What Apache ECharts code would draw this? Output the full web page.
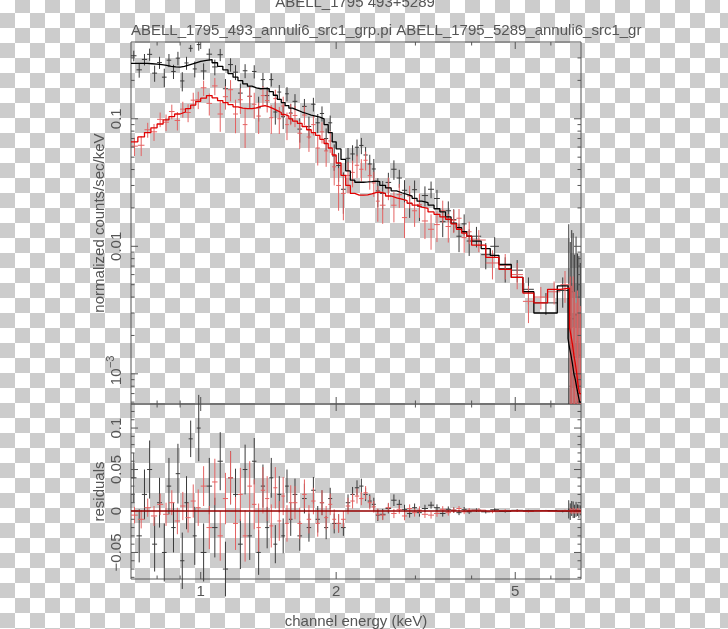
<!DOCTYPE html>
<html><head><meta charset="utf-8">
<script src="https://cdn.jsdelivr.net/npm/echarts@6/dist/echarts.min.js"></script>
<style>html,body{margin:0;padding:0;background:#fff}#c{width:728px;height:629px}</style>
</head><body><div id="c"></div>
<script>
// ---------- axis ranges & ticks ----------
const X_MIN = 0.7, X_MAX = 7;
const Y_MIN = 5.8e-4, Y_MAX = 0.4;
const R_MIN = -0.082, R_MAX = 0.129;
const xMajorTicks = [1, 2, 5];
const xTickLabels = ['1', '2', '5'];
const xMinorTicks = [0.8, 0.9, 3, 4, 6];
const yTopMajor = [0.001, 0.01, 0.1];
const yTopLabels = ['10^-3', '0.01', '0.1'];
const yTopMinor = [0.0006, 0.0007, 0.0008, 0.0009, 0.002, 0.003, 0.004, 0.005, 0.006, 0.007, 0.008, 0.009,
  0.02, 0.03, 0.04, 0.05, 0.06, 0.07, 0.08, 0.09, 0.2, 0.3];
const resMajor = [-0.05, 0, 0.05, 0.1];
const resLabels = ['\u22120.05', '0', '0.05', '0.1'];
const resMinor = [-0.08, -0.07, -0.06, -0.04, -0.03, -0.02, -0.01, 0.01, 0.02, 0.03, 0.04, 0.06, 0.07, 0.08, 0.09, 0.11, 0.12];

// ---------- ABELL_1795_493 (black) ----------
const bE = [0.71,0.73,0.75,0.77,0.79,0.81,0.83,0.85,0.87,0.89,0.91,0.93,0.95,0.97,0.99,
  1.015,1.045,1.075,1.105,1.135,1.165,1.195,1.225,1.255,1.285,1.315,1.345,1.375,1.405,1.435,1.465,1.495,1.525,1.555,1.585,
  1.62,1.66,1.70,1.74,1.78,1.82,1.86,1.90,1.94,1.98,
  2.025,2.075,2.125,2.175,2.225,2.275,2.325,2.375,2.425,2.475,
  2.5375,2.6125,2.6875,2.7625,2.8375,2.9125,2.9875,3.0625,
  3.15,3.25,3.35,3.45,3.55,3.65,3.75,3.85,3.95,
  4.1,4.3,4.5,4.75,5.05,5.35,5.85,6.375,
  6.575,6.625,6.675,6.725,6.775,6.825,6.875,6.925,6.975];
const bW = [0.01,0.01,0.01,0.01,0.01,0.01,0.01,0.01,0.01,0.01,0.01,0.01,0.01,0.01,0.01,
  0.015,0.015,0.015,0.015,0.015,0.015,0.015,0.015,0.015,0.015,0.015,0.015,0.015,0.015,0.015,0.015,0.015,0.015,0.015,0.015,
  0.02,0.02,0.02,0.02,0.02,0.02,0.02,0.02,0.02,0.02,
  0.025,0.025,0.025,0.025,0.025,0.025,0.025,0.025,0.025,0.025,
  0.0375,0.0375,0.0375,0.0375,0.0375,0.0375,0.0375,0.0375,
  0.05,0.05,0.05,0.05,0.05,0.05,0.05,0.05,0.05,
  0.1,0.1,0.1,0.15,0.15,0.15,0.35,0.175,
  0.025,0.025,0.025,0.025,0.025,0.025,0.025,0.025,0.025];
const bModel = [0.272,0.272,0.272,0.270,0.268,0.266,0.262,0.258,0.255,0.254,0.258,0.264,0.270,0.276,0.282,
  0.287,0.291,0.275,0.258,0.242,0.226,0.212,0.199,0.188,0.180,0.175,0.172,0.173,0.172,0.163,0.153,0.142,0.134,0.127,0.121,
  0.117,0.113,0.110,0.107,0.105,0.103,0.100,0.090,0.078,0.066,
  0.058,0.048,0.039,0.033,0.0318,0.0318,0.032,0.0322,0.0324,0.0322,
  0.0300,0.0287,0.0272,0.0263,0.0255,0.0247,0.0238,0.0226,
  0.0220,0.0210,0.0197,0.0186,0.0170,0.0152,0.0140,0.0130,0.0120,
  0.0110,0.0096,0.0085,0.0072,0.0057,0.0044,0.0030,0.0049,
  0.0019,0.0016,0.0014,0.0012,0.0010,0.0009,0.00078,0.00068,0.0006];
const bResid = [0.04,-0.03,0.02,0.05,-0.04,0.01,-0.05,0.03,-0.02,0.045,-0.06,0.01,0.087,-0.03,0.10,
  -0.05,0.03,-0.02,0.06,-0.07,0.04,0.02,-0.04,0.05,-0.03,0.06,-0.05,0.03,-0.02,0.04,-0.04,0.02,-0.03,0.03,-0.01,
  0.02,-0.03,0.015,-0.02,0.025,-0.01,0.01,-0.02,0.015,-0.015,
  -0.015,-0.02,0.01,0.02,0.028,0.03,0.02,0.012,0.008,-0.005,
  -0.004,0.003,0.013,0.008,0.002,-0.003,0.004,-0.002,
  0.003,0.007,0.004,-0.003,0.002,0.001,-0.002,0.002,-0.001,
  0.001,-0.001,0.0015,-0.0005,0.0008,0.0002,0.0006,-0.0004,
  0.002,-0.0008,0.003,0.0015,-0.0004,0.002,0.001,-0.0003,0.0008];
const bErr = [0.030,0.032,0.030,0.035,0.033,0.030,0.035,0.034,0.030,0.036,0.034,0.032,0.022,0.035,0.040,
  0.035,0.034,0.036,0.035,0.033,0.032,0.031,0.030,0.030,0.029,0.028,0.027,0.026,0.025,0.024,0.023,0.022,0.021,0.020,0.020,
  0.019,0.018,0.018,0.017,0.016,0.016,0.015,0.014,0.013,0.012,
  0.011,0.010,0.010,0.009,0.009,0.009,0.008,0.008,0.008,0.007,
  0.0065,0.006,0.007,0.0055,0.0055,0.005,0.005,0.0048,
  0.0045,0.0042,0.004,0.0038,0.0035,0.0033,0.003,0.0028,0.0026,
  0.0022,0.002,0.0018,0.0015,0.0013,0.0011,0.0007,0.0012,
  0.011,0.010,0.009,0.010,0.008,0.009,0.007,0.008,0.006];

// ---------- ABELL_1795_5289 (red) ----------
const rE = [0.7125,0.7375,0.7625,0.7875,0.8125,0.8375,0.8625,0.8875,0.9125,0.9375,0.9625,0.9875,
  1.015,1.045,1.075,1.105,1.135,1.165,1.195,1.225,1.255,1.285,1.315,1.345,1.375,1.405,1.435,1.465,1.495,1.525,1.555,1.585,
  1.62,1.66,1.70,1.74,1.78,1.82,1.86,1.90,1.94,1.98,
  2.025,2.075,2.125,2.175,2.225,2.275,2.325,2.375,2.425,2.475,
  2.5375,2.6125,2.6875,2.7625,2.8375,2.9125,2.9875,3.0625,
  3.15,3.25,3.35,3.45,3.55,3.65,3.75,3.85,3.95,
  4.15,4.45,4.75,5.05,5.35,5.7,6.1,6.45,
  6.625,6.675,6.725,6.775,6.825,6.875,6.925,6.975];
const rW = [0.0125,0.0125,0.0125,0.0125,0.0125,0.0125,0.0125,0.0125,0.0125,0.0125,0.0125,0.0125,
  0.015,0.015,0.015,0.015,0.015,0.015,0.015,0.015,0.015,0.015,0.015,0.015,0.015,0.015,0.015,0.015,0.015,0.015,0.015,0.015,
  0.02,0.02,0.02,0.02,0.02,0.02,0.02,0.02,0.02,0.02,
  0.025,0.025,0.025,0.025,0.025,0.025,0.025,0.025,0.025,0.025,
  0.0375,0.0375,0.0375,0.0375,0.0375,0.0375,0.0375,0.0375,
  0.05,0.05,0.05,0.05,0.05,0.05,0.05,0.05,0.05,
  0.15,0.15,0.15,0.15,0.15,0.2,0.2,0.15,
  0.025,0.025,0.025,0.025,0.025,0.025,0.025,0.025];
const rModel = [0.066,0.072,0.078,0.085,0.091,0.098,0.104,0.109,0.113,0.120,0.128,0.137,
  0.145,0.152,0.146,0.139,0.134,0.129,0.124,0.121,0.120,0.120,0.122,0.125,0.127,0.124,0.120,0.116,0.112,0.108,0.105,0.100,
  0.096,0.092,0.087,0.082,0.078,0.074,0.069,0.064,0.059,0.052,
  0.045,0.036,0.030,0.026,0.0252,0.0252,0.0253,0.0258,0.0264,0.0266,
  0.0260,0.0248,0.0240,0.0234,0.0228,0.0218,0.0210,0.0203,
  0.0198,0.0186,0.0178,0.0170,0.0163,0.0150,0.0136,0.0127,0.0120,
  0.0102,0.0082,0.0066,0.0057,0.0043,0.0036,0.0046,0.0047,
  0.0023,0.0020,0.0017,0.0014,0.0012,0.0010,0.0008,0.0007];
const rResid = [-0.005,-0.010,0.004,-0.006,0.008,-0.004,0.010,-0.012,0.006,-0.008,0.012,0.004,
  0.03,-0.02,0.035,-0.03,0.015,0.04,-0.015,0.02,-0.03,0.03,0.008,-0.02,0.025,0.015,-0.018,0.028,-0.012,0.018,-0.015,0.01,
  0.01,-0.015,0.02,-0.01,0.012,-0.015,0.01,-0.008,0.008,-0.01,
  -0.015,-0.01,0.006,0.012,0.018,0.015,0.022,0.01,0.005,-0.004,
  -0.005,0.004,-0.003,0.002,-0.006,0.003,-0.002,0.001,
  -0.004,-0.005,-0.003,0.002,-0.002,0.001,0.003,-0.001,0.001,
  0.001,-0.0008,0.0005,0.0003,-0.0006,0.0004,-0.0002,0.0003,
  0.0005,-0.0003,0.0006,0,-0.0004,0.0003,0.0001,-0.0002];
const rErr = [0.010,0.011,0.011,0.012,0.013,0.014,0.015,0.016,0.017,0.018,0.020,0.022,
  0.024,0.026,0.028,0.030,0.031,0.032,0.032,0.032,0.031,0.030,0.030,0.029,0.028,0.027,0.026,0.025,0.024,0.023,0.022,0.021,
  0.020,0.019,0.018,0.017,0.016,0.016,0.015,0.014,0.013,0.012,
  0.011,0.010,0.010,0.009,0.009,0.008,0.008,0.008,0.007,0.007,
  0.006,0.0058,0.0056,0.0054,0.0052,0.005,0.0048,0.0046,
  0.0044,0.0042,0.004,0.0038,0.0036,0.0033,0.003,0.0028,0.0026,
  0.0022,0.0019,0.0016,0.0014,0.0012,0.0008,0.0009,0.0014,
  0.003,0.0032,0.0035,0.003,0.0028,0.0032,0.003,0.0029];

// ---------- styling ----------
const FONT_FAMILY = '"Liberation Sans", Arial, sans-serif';
const FONT = '15px ' + FONT_FAMILY;
const TXT = '#555';
const FRAME = '#555';
const BLACK_DATA = '#3a3a3a', BLACK_MODEL = '#000000';
const RED_DATA = '#e46262', RED_MODEL = '#e00000';

function makeChecker() {
  const c = document.createElement('canvas');
  c.width = 30; c.height = 30;
  const g = c.getContext('2d');
  g.fillStyle = '#ffffff'; g.fillRect(0, 0, 30, 30);
  g.fillStyle = '#cccccc';
  g.fillRect(15, 0, 15, 13);
  g.fillRect(0, 13, 15, 15);
  g.fillRect(15, 28, 15, 2);
  return c;
}

function stepPoints(E, W, M) {
  const pts = [];
  for (let i = 0; i < E.length; i++) { pts.push([E[i] - W[i], M[i]], [E[i] + W[i], M[i]]); }
  return pts;
}
function crossRender(color, clampLo, clampHi) {
  return function (params, api) {
    const x = api.value(0), y = api.value(1), hw = api.value(2), e = api.value(3);
    let lo = y - e, hi = y + e;
    if (clampLo != null) { lo = Math.max(lo, clampLo); hi = Math.min(hi, clampHi); }
    const st = { stroke: color, lineWidth: 1 };
    const pt = api.coord([x, hi]), pb = api.coord([x, lo]);
    const a = api.coord([x - hw, y]), b = api.coord([x + hw, y]);
    return { type: 'group', children: [
      { type: 'line', shape: { x1: pt[0], y1: pt[1], x2: pb[0], y2: pb[1] }, style: st },
      { type: 'line', shape: { x1: a[0], y1: a[1], x2: b[0], y2: b[1] }, style: st }
    ] };
  };
}
function tickRender(axis) {
  return function (params, api) {
    const cs = params.coordSys;
    const p = api.coord([api.value(0), api.value(1)]);
    const len = api.value(2) ? 7 : 3.5;
    const st = { stroke: FRAME, lineWidth: 1 };
    if (axis === 'x') {
      const x = p[0];
      return { type: 'group', children: [
        { type: 'line', shape: { x1: x, y1: cs.y, x2: x, y2: cs.y + len }, style: st },
        { type: 'line', shape: { x1: x, y1: cs.y + cs.height, x2: x, y2: cs.y + cs.height - len }, style: st }
      ] };
    }
    const y = p[1];
    return { type: 'group', children: [
      { type: 'line', shape: { x1: cs.x, y1: y, x2: cs.x + len, y2: y }, style: st },
      { type: 'line', shape: { x1: cs.x + cs.width, y1: y, x2: cs.x + cs.width - len, y2: y }, style: st }
    ] };
  };
}
function txt(text, x, y, rot, size) {
  return { type: 'text', x: x, y: y, rotation: rot || 0,
    style: { text: text, font: (size || 15) + 'px ' + FONT_FAMILY, fill: TXT,
      textAlign: 'center', textVerticalAlign: 'middle', align: 'center', verticalAlign: 'middle' } };
}
function yLabelRender(labels) {
  return function (params, api) {
    const p = api.coord([api.value(0), api.value(1)]);
    const lab = labels[params.dataIndex];
    const x = p[0] - 14;
    if (lab.indexOf('^') >= 0) {
      const parts = lab.split('^');
      return { type: 'group', children: [
        txt(parts[0], x, p[1] + 3, Math.PI / 2),
        txt(parts[1].replace('-', '\u2212'), x - 6, p[1] - 12, Math.PI / 2, 11)
      ] };
    }
    return txt(lab, x, p[1], Math.PI / 2);
  };
}
function xLabelRender(labels) {
  return function (params, api) {
    const p = api.coord([api.value(0), api.value(1)]);
    return txt(labels[params.dataIndex], p[0], p[1] + 12.5, 0);
  };
}

const blackTop = bE.map((e, i) => [e, bModel[i] + bResid[i], bW[i], bErr[i]]);
const redTop = rE.map((e, i) => [e, rModel[i] + rResid[i], rW[i], rErr[i]]);
const blackRes = bE.map((e, i) => [e, bResid[i], bW[i], bErr[i]]);
const redRes = rE.map((e, i) => [e, rResid[i], rW[i], rErr[i]]);
const bLast = bE.length - 1, rLast = rE.length - 1;

const chart = echarts.init(document.getElementById('c'), null, { renderer: 'canvas' });
const hiddenAxis = { axisLine: { show: false }, axisTick: { show: false }, axisLabel: { show: false }, splitLine: { show: false } };
const nameStyle = { color: TXT, fontSize: 15, fontFamily: FONT_FAMILY };

chart.setOption({
  animation: false,
  backgroundColor: { image: makeChecker(), repeat: 'repeat' },
  textStyle: { fontFamily: FONT_FAMILY },
  grid: [
    { left: 131, top: 42, width: 450, height: 362, show: true, borderColor: FRAME, borderWidth: 1, backgroundColor: 'transparent', outerBoundsMode: 'none' },
    { left: 131, top: 404, width: 450, height: 175, show: true, borderColor: FRAME, borderWidth: 1, backgroundColor: 'transparent', outerBoundsMode: 'none' }
  ],
  xAxis: [
    Object.assign({ type: 'log', logBase: 10, min: X_MIN, max: X_MAX, gridIndex: 0 }, hiddenAxis),
    Object.assign({ type: 'log', logBase: 10, min: X_MIN, max: X_MAX, gridIndex: 1,
      name: 'channel energy (keV)', nameLocation: 'middle', nameGap: 35, nameTextStyle: nameStyle }, hiddenAxis)
  ],
  yAxis: [
    Object.assign({ type: 'log', logBase: 10, min: Y_MIN, max: Y_MAX, gridIndex: 0,
      name: 'normalized counts/sec/keV', nameLocation: 'middle', nameRotate: 90, nameGap: 24, nameTextStyle: nameStyle }, hiddenAxis),
    Object.assign({ type: 'value', min: R_MIN, max: R_MAX, gridIndex: 1,
      name: 'residuals', nameLocation: 'middle', nameRotate: 90, nameGap: 24, nameTextStyle: nameStyle }, hiddenAxis)
  ],
  graphic: [
    txt('ABELL_1795 493+5289', 355, 3, 0),
    { type: 'text', x: 131, y: 31, style: { text: 'ABELL_1795_493_annuli6_src1_grp.pi ABELL_1795_5289_annuli6_src1_gr',
      font: FONT, fill: TXT, textAlign: 'left', textVerticalAlign: 'middle', align: 'left', verticalAlign: 'middle' } }
  ],
  series: [
    { type: 'custom', name: '493 data', xAxisIndex: 0, yAxisIndex: 0, clip: true, silent: true,
      data: blackTop, renderItem: crossRender(BLACK_DATA, Y_MIN, Y_MAX) },
    { type: 'custom', name: '5289 data', xAxisIndex: 0, yAxisIndex: 0, clip: true, silent: true,
      data: redTop, renderItem: crossRender(RED_DATA, Y_MIN, Y_MAX) },
    { type: 'line', name: '493 model', xAxisIndex: 0, yAxisIndex: 0, showSymbol: false, silent: true,
      data: stepPoints(bE, bW, bModel), lineStyle: { color: BLACK_MODEL, width: 1.3 } },
    { type: 'line', name: '5289 model', xAxisIndex: 0, yAxisIndex: 0, showSymbol: false, silent: true,
      data: stepPoints(rE, rW, rModel), lineStyle: { color: RED_MODEL, width: 1.3 } },
    { type: 'custom', name: '493 resid', xAxisIndex: 1, yAxisIndex: 1, clip: false, silent: true,
      data: blackRes, renderItem: crossRender(BLACK_DATA, null, null) },
    { type: 'custom', name: '5289 resid', xAxisIndex: 1, yAxisIndex: 1, clip: false, silent: true,
      data: redRes, renderItem: crossRender(RED_DATA, null, null) },
    { type: 'line', xAxisIndex: 1, yAxisIndex: 1, showSymbol: false, silent: true,
      data: [[bE[0] - bW[0], 0], [bE[bLast] + bW[bLast], 0]], lineStyle: { color: BLACK_MODEL, width: 1.2 } },
    { type: 'line', xAxisIndex: 1, yAxisIndex: 1, showSymbol: false, silent: true,
      data: [[rE[0] - rW[0], 0], [rE[rLast] + rW[rLast], 0]], lineStyle: { color: RED_MODEL, width: 1.2 } },
    // ticks
    { type: 'custom', xAxisIndex: 0, yAxisIndex: 0, silent: true, renderItem: tickRender('x'),
      data: xMajorTicks.map(v => [v, 0.01, 1]).concat(xMinorTicks.map(v => [v, 0.01, 0])) },
    { type: 'custom', xAxisIndex: 1, yAxisIndex: 1, silent: true, renderItem: tickRender('x'),
      data: xMajorTicks.map(v => [v, 0, 1]).concat(xMinorTicks.map(v => [v, 0, 0])) },
    { type: 'custom', xAxisIndex: 0, yAxisIndex: 0, silent: true, renderItem: tickRender('y'),
      data: yTopMajor.map(v => [1, v, 1]).concat(yTopMinor.map(v => [1, v, 0])) },
    { type: 'custom', xAxisIndex: 1, yAxisIndex: 1, silent: true, renderItem: tickRender('y'),
      data: resMajor.map(v => [1, v, 1]).concat(resMinor.map(v => [1, v, 0])) },
    // tick labels
    { type: 'custom', xAxisIndex: 1, yAxisIndex: 1, silent: true, renderItem: xLabelRender(xTickLabels),
      data: xMajorTicks.map(v => [v, R_MIN]) },
    { type: 'custom', xAxisIndex: 0, yAxisIndex: 0, silent: true, renderItem: yLabelRender(yTopLabels),
      data: yTopMajor.map(v => [X_MIN, v]) },
    { type: 'custom', xAxisIndex: 1, yAxisIndex: 1, silent: true, renderItem: yLabelRender(resLabels),
      data: resMajor.map(v => [X_MIN, v]) }
  ]
});
</script></body></html>
